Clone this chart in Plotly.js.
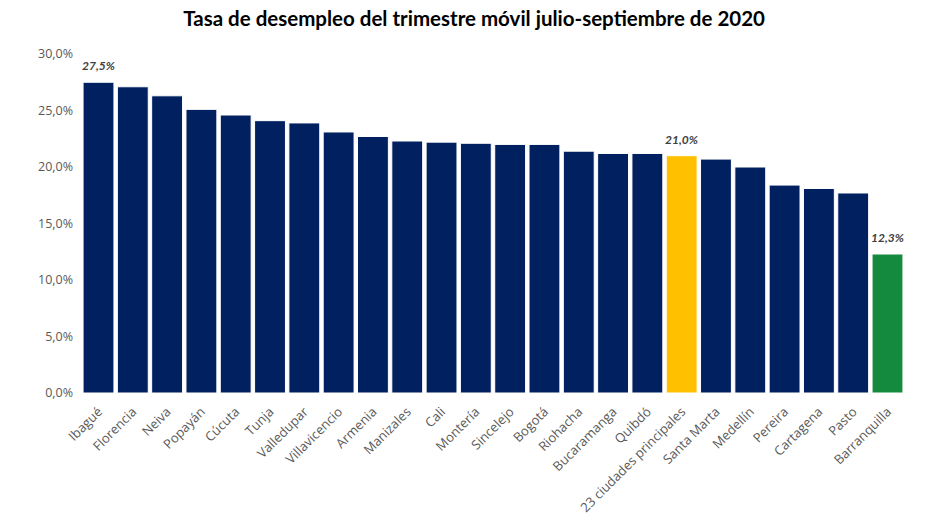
<!DOCTYPE html>
<html>
<head>
<meta charset="utf-8">
<script src="https://cdn.plot.ly/plotly-3.0.1.min.js"></script>
<style>html,body{margin:0;padding:0;background:#fff;}#chart{width:926px;height:515px;}</style>
</head>
<body>
<div id="chart"></div>
<script>
const ciudades = ["Ibagué","Florencia","Neiva","Popayán","Cúcuta","Tunja","Valledupar","Villavicencio","Armenia","Manizales","Cali","Montería","Sincelejo","Bogotá","Riohacha","Bucaramanga","Quibdó","23 ciudades principales","Santa Marta","Medellín","Pereira","Cartagena","Pasto","Barranquilla"];
const tasas = [27.5,27.1,26.3,25.1,24.6,24.1,23.9,23.1,22.7,22.3,22.2,22.1,22.0,22.0,21.4,21.2,21.2,21.0,20.7,20.0,18.4,18.1,17.7,12.3];
const etiquetas = ["27,5%","","","","","","","","","","","","","","","","","21,0%","","","","","","12,3%"];
const yTicks = [0,5,10,15,20,25,30];
const yTickText = ["0,0%","5,0%","10,0%","15,0%","20,0%","25,0%","30,0%"];

const colores = ciudades.map(c => c === "23 ciudades principales" ? "#FFC000" : (c === "Barranquilla" ? "#138A3E" : "#002060"));

const trace = {
  type: "bar",
  x: ciudades,
  y: tasas,
  marker: {color: colores, line: {color: "#ffffff", width: 1}},
  hoverinfo: "x+y"
};

const annotations = [];
ciudades.forEach((c, i) => {
  if (etiquetas[i]) {
    annotations.push({
      x: c, y: tasas[i], xref: "x", yref: "y", text: "<b><i>" + etiquetas[i] + "</i></b>",
      showarrow: false, yanchor: "bottom", yshift: 7,
      font: {family: "Lato, 'Open Sans', sans-serif", size: 12, color: "#404040"}
    });
  }
});

const layout = {
  width: 926, height: 515,
  margin: {l: 80, r: 20, t: 54, b: 122},
  paper_bgcolor: "#ffffff", plot_bgcolor: "#ffffff",
  title: {text: "<b>Tasa de desempleo del trimestre móvil julio-septiembre de 2020</b>", x: 0.512, xanchor: "center", y: 0.963, yanchor: "middle",
          font: {family: "Lato, 'Open Sans', sans-serif", size: 20.5, color: "#000000"}},
  bargap: 0.1,
  showlegend: false,
  annotations: annotations,
  xaxis: {tickangle: -45, showline: false, showgrid: false, zeroline: false, ticks: "outside", ticklen: 5, tickcolor: "rgba(0,0,0,0)",
          tickfont: {family: "'Open Sans', Lato, sans-serif", size: 13, color: "#595959"}},
  yaxis: {range: [0, 30], tickvals: yTicks, ticktext: yTickText, showgrid: false, zeroline: false, showline: false, ticks: "", ticklabelstandoff: 6,
          tickfont: {family: "'Open Sans', Lato, sans-serif", size: 12.5, color: "#595959"}}
};

Plotly.newPlot("chart", [trace], layout, {displayModeBar: false, staticPlot: true});
</script>
</body>
</html>
